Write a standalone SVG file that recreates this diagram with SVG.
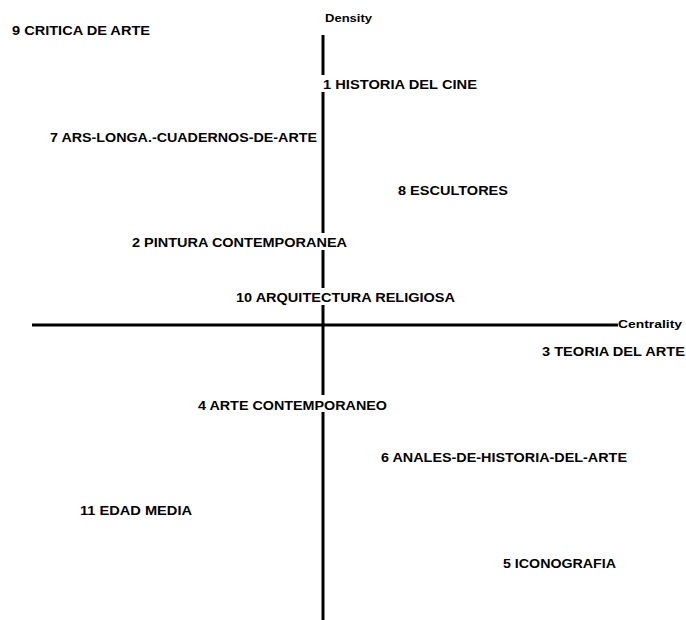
<svg xmlns="http://www.w3.org/2000/svg" width="686" height="620" viewBox="0 0 686 620">
<style>
.bg{fill:#fff}
.lbl{font-family:"Liberation Sans",Arial,sans-serif;font-weight:bold;font-size:13.5px;fill:#000}
.ax{font-family:"Liberation Sans",Arial,sans-serif;font-weight:bold;font-size:11.5px;fill:#000}
.axis{stroke:#000;stroke-width:3;fill:none}
</style>
<rect width="686" height="620" fill="#fff"/>
<g id="connectors">
<line class="axis" x1="323" y1="35" x2="323" y2="620"/>
<line class="axis" x1="32" y1="325" x2="618" y2="325"/>
</g>
<g id="density"><text class="ax" x="325" y="22" textLength="47" lengthAdjust="spacingAndGlyphs">Density</text></g>
<g id="centrality"><text class="ax" x="618" y="328" textLength="64" lengthAdjust="spacingAndGlyphs">Centrality</text></g>
<g id="n9"><rect class="bg" x="10" y="21" width="142" height="18"/><text class="lbl" x="12" y="35" textLength="138" lengthAdjust="spacingAndGlyphs">9 CRITICA DE ARTE</text></g>
<g id="n1"><rect class="bg" x="321" y="75" width="158" height="17"/><text class="lbl" x="323" y="89" textLength="154" lengthAdjust="spacingAndGlyphs">1 HISTORIA DEL CINE</text></g>
<g id="n7"><rect class="bg" x="48" y="128" width="271" height="17"/><text class="lbl" x="50" y="142" textLength="267" lengthAdjust="spacingAndGlyphs">7 ARS-LONGA.-CUADERNOS-DE-ARTE</text></g>
<g id="n8"><rect class="bg" x="396" y="181" width="114" height="17"/><text class="lbl" x="398" y="195" textLength="110" lengthAdjust="spacingAndGlyphs">8 ESCULTORES</text></g>
<g id="n2"><rect class="bg" x="130" y="233" width="219" height="17"/><text class="lbl" x="132" y="247" textLength="215" lengthAdjust="spacingAndGlyphs">2 PINTURA CONTEMPORANEA</text></g>
<g id="n10"><rect class="bg" x="234" y="288" width="223" height="17"/><text class="lbl" x="236" y="302" textLength="219" lengthAdjust="spacingAndGlyphs">10 ARQUITECTURA RELIGIOSA</text></g>
<g id="n3"><rect class="bg" x="540" y="342" width="146" height="17"/><text class="lbl" x="542" y="356" textLength="143" lengthAdjust="spacingAndGlyphs">3 TEORIA DEL ARTE</text></g>
<g id="n4"><rect class="bg" x="196" y="395" width="193" height="17"/><text class="lbl" x="198" y="410" textLength="189" lengthAdjust="spacingAndGlyphs">4 ARTE CONTEMPORANEO</text></g>
<g id="n6"><rect class="bg" x="379" y="448" width="250" height="17"/><text class="lbl" x="381" y="462" textLength="246" lengthAdjust="spacingAndGlyphs">6 ANALES-DE-HISTORIA-DEL-ARTE</text></g>
<g id="n11"><rect class="bg" x="78" y="501" width="116" height="17"/><text class="lbl" x="80" y="515" textLength="112" lengthAdjust="spacingAndGlyphs">11 EDAD MEDIA</text></g>
<g id="n5"><rect class="bg" x="501" y="554" width="117" height="17"/><text class="lbl" x="503" y="568" textLength="113" lengthAdjust="spacingAndGlyphs">5 ICONOGRAFIA</text></g>
</svg>
